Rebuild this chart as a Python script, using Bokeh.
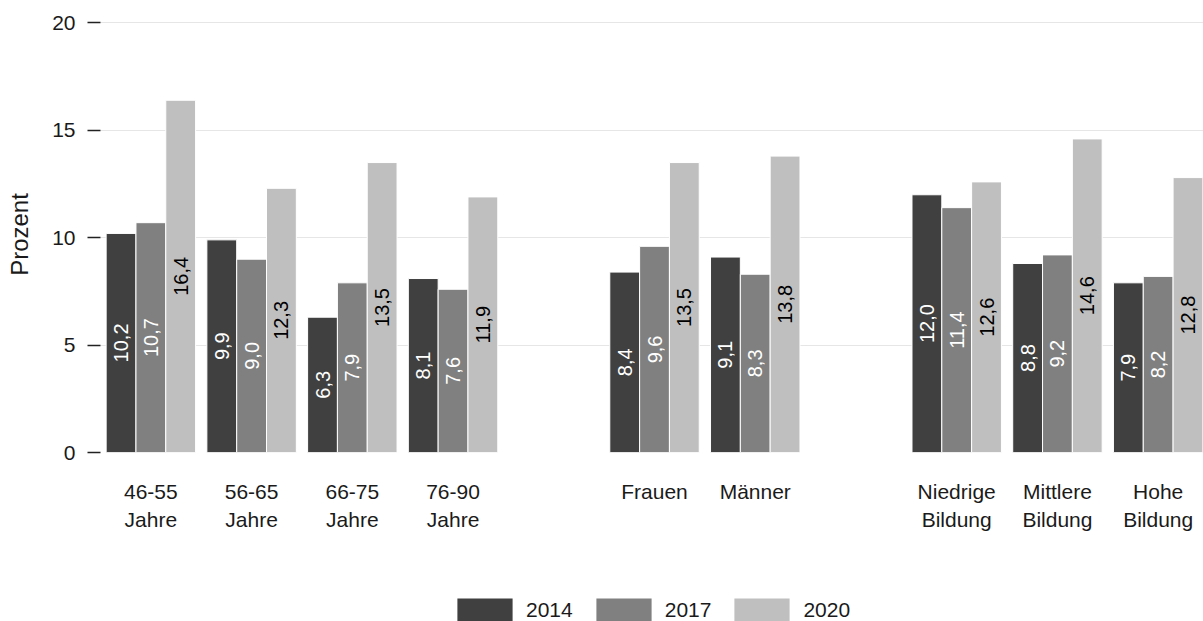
import numpy as np
from bokeh.plotting import figure
from bokeh.layouts import column
from bokeh.models import Range1d, FixedTicker, Legend, LegendItem, ColumnDataSource
from bokeh.core.properties import value
from bokeh.embed import file_html
from bokeh.resources import INLINE

# ---- data ----
groups = [
    ["46-55\nJahre", "56-65\nJahre", "66-75\nJahre", "76-90\nJahre"],
    ["Frauen", "Männer"],
    ["Niedrige\nBildung", "Mittlere\nBildung", "Hohe\nBildung"],
]
years = ["2014", "2017", "2020"]
v2014 = [10.2, 9.9, 6.3, 8.1, 8.4, 9.1, 12.0, 8.8, 7.9]
v2017 = [10.7, 9.0, 7.9, 7.6, 9.6, 8.3, 11.4, 9.2, 8.2]
v2020 = [16.4, 12.3, 13.5, 11.9, 13.5, 13.8, 12.6, 14.6, 12.8]
y_ticks = [0, 5, 10, 15, 20]
y_label = "Prozent"

# ---- styles ----
colors = ["#404040", "#808080", "#bfbfbf"]
label_colors = ["white", "white", "black"]
FONT = "Liberation Sans"
bar_w = 0.296

# slot positions: one empty slot between groups
positions, labels = [], []
slot = 0
for g in groups:
    for c in g:
        positions.append(slot)
        labels.append(c)
        slot += 1
    slot += 1
positions = np.array(positions, dtype=float)

p = figure(width=1203, height=590, output_backend="svg", toolbar_location=None,
           x_range=Range1d(-0.5, 10.45), y_range=Range1d(0, 20.3),
           min_border_left=100, min_border_right=0, min_border_top=16, min_border_bottom=138)
p.outline_line_color = None
p.background_fill_color = "white"

# legend strip (separate small figure whose view shows none of the bars)
pl = figure(width=1203, height=31, output_backend="svg", toolbar_location=None,
            x_axis_location=None, y_axis_location=None,
            x_range=Range1d(-200, -199), y_range=Range1d(-200, -199),
            min_border_left=0, min_border_right=0, min_border_top=0, min_border_bottom=0)
pl.outline_line_color = None
pl.grid.visible = False

series = [v2014, v2017, v2020]
offsets = [-bar_w, 0.0, bar_w]
items = []
for yr, vals, col, lcol, off in zip(years, series, colors, label_colors, offsets):
    vals = np.array(vals, dtype=float)
    src = ColumnDataSource(dict(
        x=positions + off,
        top=vals,
        mid=vals / 2.0,
        lab=[f"{v:.1f}".replace(".", ",") for v in vals],
    ))
    p.vbar(x="x", top="top", bottom=0, width=bar_w, source=src,
           fill_color=col, line_color="white", line_width=1)
    p.text(x="x", y="mid", text="lab", source=src, angle=np.pi / 2,
           text_align="center", text_baseline="middle",
           text_font=value(FONT), text_font_size="20px", text_color=lcol)
    r = pl.vbar(x="x", top="top", bottom=0, width=bar_w, source=src,
                fill_color=col, line_color=None)
    items.append(LegendItem(label=yr, renderers=[r]))

# axes
p.xgrid.visible = False
p.ygrid.grid_line_color = "#e6e6e6"
p.ygrid.grid_line_width = 1

yax = p.yaxis[0]
yax.ticker = FixedTicker(ticks=y_ticks)
yax.axis_line_color = None
yax.major_tick_out = 13
yax.major_tick_in = 0
yax.major_tick_line_color = "#222222"
yax.major_tick_line_width = 1.3
yax.minor_tick_line_color = None
yax.major_label_standoff = 12
yax.major_label_text_font = FONT
yax.major_label_text_font_size = "21px"
yax.major_label_text_color = "#1a1a1a"
yax.axis_label = y_label
yax.axis_label_text_font = FONT
yax.axis_label_text_font_size = "24px"
yax.axis_label_text_font_style = "normal"
yax.axis_label_text_color = "#1a1a1a"
yax.axis_label_standoff = 16

xax = p.xaxis[0]
xax.ticker = FixedTicker(ticks=list(positions))
xax.major_label_overrides = {float(pos): lab for pos, lab in zip(positions, labels)}
xax.axis_line_color = None
xax.major_tick_line_color = None
xax.major_tick_out = 0
xax.major_tick_in = 0
xax.minor_tick_line_color = None
xax.major_label_standoff = 27
xax.major_label_text_font = FONT
xax.major_label_text_font_size = "21px"
xax.major_label_text_color = "#1a1a1a"
xax.major_label_text_line_height = 1.25

legend = Legend(items=items, orientation="horizontal", location=(350, -4),
                glyph_width=69, glyph_height=30, label_standoff=7, spacing=16,
                padding=0, margin=0, border_line_color=None, background_fill_alpha=0,
                label_text_font=FONT, label_text_font_size="21px",
                label_text_color="#1a1a1a")
pl.add_layout(legend)

layout = column(p, pl, spacing=0)
open("out.html", "w").write(file_html(layout, INLINE))
